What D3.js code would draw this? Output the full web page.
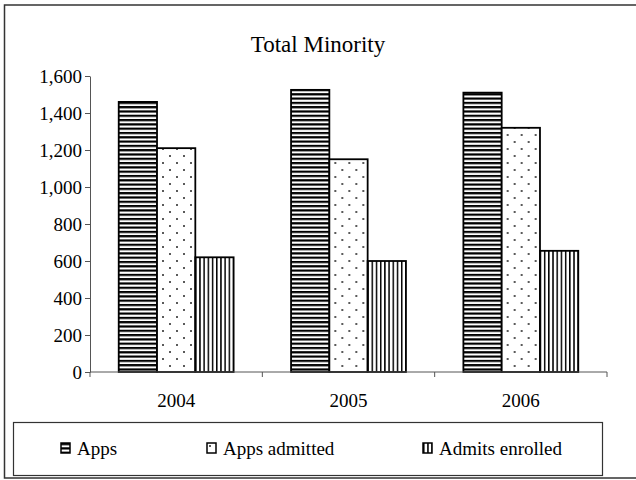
<!DOCTYPE html>
<html>
<head>
<meta charset="utf-8">
<script src="https://cdn.jsdelivr.net/npm/d3@7"></script>
<style>
  body { margin: 0; background: #fff; }
  svg text { font-family: "Liberation Serif", "Times New Roman", Times, serif; }
</style>
</head>
<body>
<svg id="chart" width="636" height="480"></svg>
<script>
// data
var years = ["2004", "2005", "2006"];
var seriesNames = ["Apps", "Apps admitted", "Admits enrolled"];
var apps = [1460, 1525, 1510];
var appsAdmitted = [1210, 1150, 1320];
var admitsEnrolled = [620, 600, 655];
var yTicks = [0, 200, 400, 600, 800, 1000, 1200, 1400, 1600];

var seriesValues = [apps, appsAdmitted, admitsEnrolled];
var patternIds = ["hstripe", "dots", "vstripe"];
var serif = "'Liberation Serif', 'Times New Roman', Times, serif";

var margin = {top: 76, left: 90, right: 29, bottom: 108};
var width = 636 - margin.left - margin.right;
var height = 480 - margin.top - margin.bottom;

var svg = d3.select("#chart");

// fill patterns
var defs = svg.append("defs");

var hs = defs.append("pattern")
    .attr("id", "hstripe")
    .attr("patternUnits", "userSpaceOnUse")
    .attr("width", 8).attr("height", 4.3);
hs.append("rect").attr("width", 8).attr("height", 4.3).attr("fill", "#fff");
hs.append("rect").attr("width", 8).attr("height", 2.2).attr("fill", "#000");

var dp = defs.append("pattern")
    .attr("id", "dots")
    .attr("patternUnits", "userSpaceOnUse")
    .attr("width", 14).attr("height", 14);
dp.append("rect").attr("width", 14).attr("height", 14).attr("fill", "#fff");
dp.append("circle").attr("cx", 3).attr("cy", 3).attr("r", 1).attr("fill", "#222");
dp.append("circle").attr("cx", 10).attr("cy", 10).attr("r", 1).attr("fill", "#222");

var vs = defs.append("pattern")
    .attr("id", "vstripe")
    .attr("patternUnits", "userSpaceOnUse")
    .attr("width", 4.2).attr("height", 8);
vs.append("rect").attr("width", 4.2).attr("height", 8).attr("fill", "#fff");
vs.append("rect").attr("width", 1.5).attr("height", 8).attr("fill", "#000");

// outer frame
svg.append("rect")
    .attr("x", 4.5).attr("y", 5)
    .attr("width", 660).attr("height", 473)
    .attr("fill", "none")
    .attr("stroke", "#333")
    .attr("stroke-width", 1.5);

// title
svg.append("text")
    .attr("x", 318)
    .attr("y", 52)
    .attr("text-anchor", "middle")
    .attr("font-family", serif)
    .style("font-size", "23px")
    .text("Total Minority");

var g = svg.append("g")
    .attr("transform", "translate(" + margin.left + "," + margin.top + ")");

var xScale = d3.scaleBand()
    .domain(years)
    .range([0, width])
    .paddingInner(0)
    .paddingOuter(0);

var xInner = d3.scaleBand()
    .domain(seriesNames)
    .range([0, xScale.bandwidth()])
    .paddingOuter(0.75)
    .paddingInner(0);

var yScale = d3.scaleLinear()
    .domain([0, 1600])
    .range([height, 0]);

// bars
var groups = g.selectAll(".year")
    .data(years)
    .enter().append("g")
    .attr("class", "year")
    .attr("transform", function(d) { return "translate(" + xScale(d) + ",0)"; });

groups.selectAll("rect")
    .data(function(d, i) {
      return seriesNames.map(function(s, j) {
        return {series: s, value: seriesValues[j][i], pattern: patternIds[j]};
      });
    })
    .enter().append("rect")
    .attr("x", function(d) { return xInner(d.series); })
    .attr("y", function(d) { return yScale(d.value); })
    .attr("width", xInner.bandwidth())
    .attr("height", function(d) { return yScale(0) - yScale(d.value); })
    .attr("fill", function(d) { return "url(#" + d.pattern + ")"; })
    .attr("stroke", "#000")
    .attr("stroke-width", 1.8);

// y axis
var yAxis = d3.axisLeft(yScale)
    .tickValues(yTicks)
    .tickFormat(d3.format(","))
    .tickSize(5)
    .tickSizeOuter(0)
    .tickPadding(3);

var yg = g.append("g").call(yAxis).attr("font-family", serif);
yg.select(".domain").attr("stroke", "#555");
yg.selectAll(".tick line").attr("stroke", "#555");
yg.selectAll("text")
    .attr("font-family", serif)
    .style("font-size", "19px")
    .attr("fill", "#000");

// x axis: ticks at category boundaries
var bounds = years.map(function(d) { return xScale(d); }).concat([width]);
var xg = g.append("g").attr("transform", "translate(0," + height + ")");
xg.append("line")
    .attr("x1", 0).attr("x2", width)
    .attr("y1", 0).attr("y2", 0)
    .attr("stroke", "#555");
xg.selectAll(".btick")
    .data(bounds)
    .enter().append("line")
    .attr("class", "btick")
    .attr("x1", function(d) { return d; })
    .attr("x2", function(d) { return d; })
    .attr("y1", 0).attr("y2", 5)
    .attr("stroke", "#555");
xg.selectAll(".xlabel")
    .data(years)
    .enter().append("text")
    .attr("class", "xlabel")
    .attr("x", function(d) { return xScale(d) + xScale.bandwidth() / 2; })
    .attr("y", 34.5)
    .attr("text-anchor", "middle")
    .attr("font-family", serif)
    .style("font-size", "19px")
    .text(function(d) { return d; });

// legend
var legendX = [61, 207, 423];
svg.append("rect")
    .attr("x", 13.5).attr("y", 422.5)
    .attr("width", 589).attr("height", 53)
    .attr("fill", "#fff")
    .attr("stroke", "#333")
    .attr("stroke-width", 1.2);

var items = svg.selectAll(".legend")
    .data(seriesNames)
    .enter().append("g")
    .attr("class", "legend")
    .attr("transform", function(d, i) { return "translate(" + legendX[i] + ",443)"; });

items.append("rect")
    .attr("width", 9).attr("height", 10)
    .attr("fill", function(d, i) { return "url(#" + patternIds[i] + ")"; })
    .attr("stroke", "#000")
    .attr("stroke-width", 1.5);

items.append("text")
    .attr("x", 16)
    .attr("y", 12)
    .attr("font-family", serif)
    .style("font-size", "19px")
    .text(function(d) { return d; });
</script>
</body>
</html>
